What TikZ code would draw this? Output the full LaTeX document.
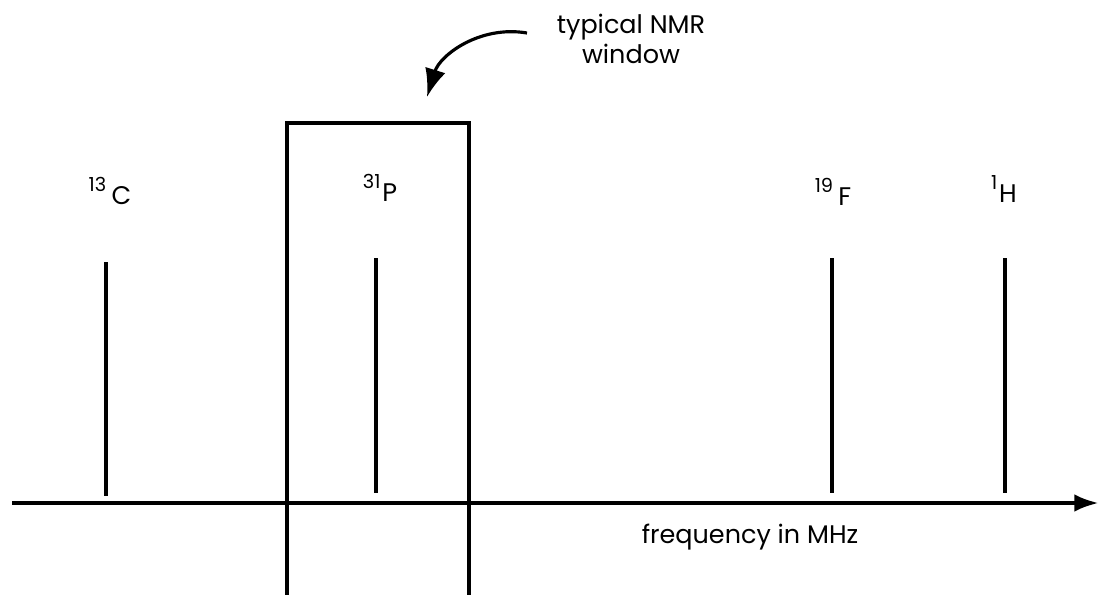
\documentclass[tikz,border=0pt]{standalone}
\usepackage{fontspec}
\setmainfont{Poppins}
\usetikzlibrary{arrows.meta}

\newcommand{\isotope}[2]{\raisebox{0.5em}{\fontsize{11}{13}\selectfont #1}\kern#2}

\begin{document}
\begin{tikzpicture}[
    x=0.02cm, y=-0.02cm,
    font=\fontsize{14.5}{17}\selectfont,
    label/.style={anchor=base,inner sep=0pt},
    spike/.style={line width=1.8pt},
    window/.style={line width=1.8pt},
    axis/.style={line width=2.5pt,-{Latex[length=14pt,width=10pt]}},
    pointer/.style={line width=1.8pt,-{Latex[length=16pt,width=12pt]}}
]
\useasboundingbox (0,0) rectangle (1099,595);

\coordinate (axis_start) at (12,503);
\coordinate (axis_end) at (1099,503);
\coordinate (c_top) at (106,262);
\coordinate (c_bot) at (106,496);
\coordinate (p_top) at (376,258);
\coordinate (p_bot) at (376,493);
\coordinate (f_top) at (832,258);
\coordinate (f_bot) at (832,493);
\coordinate (h_top) at (1005,258);
\coordinate (h_bot) at (1005,493);
\coordinate (win_ll) at (287,600);
\coordinate (win_tl) at (287,123);
\coordinate (win_tr) at (469,123);
\coordinate (win_lr) at (469,600);
\coordinate (arrow_start) at (527,33);
\coordinate (tip) at (427,97);

\node[label] (carbon) at (110,204) {\isotope{13}{3pt}C};
\node[label] (phosphorus) at (380,201) {\isotope{31}{1pt}P};
\node[label] (fluorine) at (833,205) {\isotope{19}{3pt}F};
\node[label] (hydrogen) at (1004,202) {\isotope{1}{1pt}H};
\node[label] (freq) at (750,543) {frequency in MHz};
\node[label,align=center] (typical) at (631,63) {typical NMR\\window};

\draw[axis] (axis_start) -- (axis_end);
\draw[spike] (c_top) -- (c_bot);
\draw[spike] (p_top) -- (p_bot);
\draw[spike] (f_top) -- (f_bot);
\draw[spike] (h_top) -- (h_bot);
\draw[window] (win_ll) -- (win_tl) -- (win_tr) -- (win_lr);
\draw[pointer] (arrow_start) .. controls (480,25) and (440,55) .. (tip);
\end{tikzpicture}
\end{document}
